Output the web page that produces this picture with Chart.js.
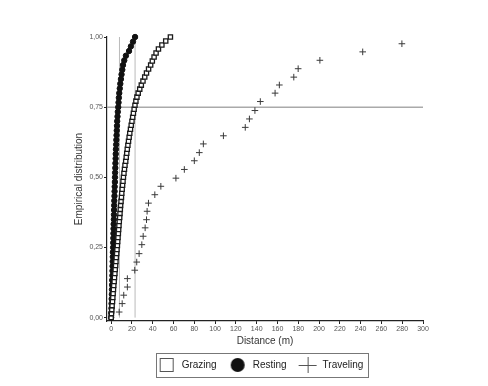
<!DOCTYPE html>
<html>
<head>
<meta charset="utf-8">
<script src="https://cdn.jsdelivr.net/npm/chart.js@4.4.1/dist/chart.umd.min.js"></script>
<style>
  html, body { margin: 0; padding: 0; background: #fff; }
</style>
</head>
<body>
<canvas id="ecdfChart" width="488" height="386"></canvas>
<script>
// Sorted distances (m)
const grazingDist = [
  0, 0.3, 0.6, 0.9, 1.3, 1.6, 1.9, 2.2, 2.5, 2.9,
  3.2, 3.6, 3.9, 4.3, 4.6, 4.9, 5.3, 5.6, 6.0, 6.3,
  6.6, 6.9, 7.2, 7.5, 7.8, 8.2, 8.5, 8.8, 9.1, 9.5,
  9.9, 10.2, 10.6, 11.0, 11.4, 11.8, 12.3, 12.8, 13.3, 14.0,
  14.5, 15.0, 15.5, 16.1, 16.7, 17.3, 17.9, 18.6, 19.3, 20.0,
  20.7, 21.4, 22.1, 22.9, 23.8, 24.8, 26.0, 27.5, 29.0, 30.6,
  32.3, 34.0, 36.0, 38.0, 39.6, 41.3, 43.2, 45.5, 48.8, 52.5, 57.0
];
const restingDist = [
  0, 0.1, 0.3, 0.4, 0.5, 0.7, 0.8, 0.9, 1.0, 1.2,
  1.3, 1.4, 1.5, 1.6, 1.7, 1.9, 2.0, 2.1, 2.2, 2.3,
  2.4, 2.6, 2.7, 2.8, 2.9, 3.0, 3.2, 3.3, 3.4, 3.6,
  3.7, 3.8, 4.0, 4.1, 4.3, 4.4, 4.6, 4.8, 5.0, 5.2,
  5.4, 5.6, 5.8, 6.1, 6.4, 6.8, 7.1, 7.4, 7.8, 8.3,
  8.8, 9.4, 10.0, 10.7, 11.4, 12.6, 14.2, 17.2, 19.0, 21.0, 23.0
];
// Traveling points read one by one
const travelingDist = [
  7.7, 10.6, 12.1, 15.6, 15.6, 22.7, 24.6, 26.9, 29.5, 30.8,
  32.7, 34.0, 34.6, 35.9, 42.0, 47.8, 62.3, 70.4, 80.0, 84.8,
  88.7, 108, 129, 133, 138.3, 143.5, 157.7, 161.8, 175.7, 179.9,
  200.8, 242, 279.7
];
const travelingProb = [
  0.020, 0.050, 0.080, 0.109, 0.139, 0.169, 0.198, 0.228, 0.260, 0.290,
  0.320, 0.349, 0.379, 0.408, 0.438, 0.468, 0.497, 0.528, 0.559, 0.588,
  0.619, 0.648, 0.678, 0.708, 0.738, 0.770, 0.800, 0.829, 0.857, 0.887,
  0.917, 0.947, 0.976
];

// reference lines
const refLevel = 0.75;
const refDistances = [8, 23];

const xTicks = [0, 20, 40, 60, 80, 100, 120, 140, 160, 180, 200, 220, 240, 260, 280, 300];
const yTicks = [0, 0.25, 0.5, 0.75, 1];
const xMin = -4, xMax = 300;
const yMin = -0.012, yMax = 1;

const LEGEND_SHIFT = 14;
const FONT = "'Liberation Sans', Arial, sans-serif";

// empirical distribution: rank / (n - 1) for a sorted sample
function ecdf(dist) {
  return dist.map((d, i) => ({ x: d, y: i / (dist.length - 1) }));
}

// small canvases used as legend symbols
function legendSymbol(kind) {
  const c = document.createElement('canvas');
  c.width = 20; c.height = 16;
  const g = c.getContext('2d');
  if (kind === 'square') {
    g.strokeStyle = '#555';
    g.lineWidth = 1;
    g.strokeRect(3.5, 1.5, 13, 13);
  } else if (kind === 'circle') {
    g.fillStyle = '#111';
    g.beginPath();
    g.arc(10, 8, 7, 0, Math.PI * 2);
    g.fill();
  } else {
    g.strokeStyle = '#555';
    g.lineWidth = 1;
    g.beginPath();
    g.moveTo(1, 8.5); g.lineTo(19, 8.5);
    g.moveTo(10.5, 0); g.lineTo(10.5, 16);
    g.stroke();
  }
  return c;
}
const legendSymbols = [legendSymbol('square'), legendSymbol('circle'), legendSymbol('plus')];

const legendTweaks = {
  id: 'legendTweaks',
  afterLayout(chart) {
    chart.legend.left += LEGEND_SHIFT;
    chart.legend.right += LEGEND_SHIFT;
  },
  afterDraw(chart) {
    const boxes = chart.legend.legendHitBoxes;
    if (!boxes || !boxes.length) return;
    const ctx = chart.ctx;
    const left = Math.min(...boxes.map(b => b.left)) - 1;
    const right = Math.max(...boxes.map(b => b.left + b.width)) + 4;
    const top = boxes[0].top - 7;
    const bottom = boxes[0].top + boxes[0].height + 7;
    ctx.save();
    ctx.strokeStyle = '#777';
    ctx.lineWidth = 1;
    ctx.strokeRect(Math.round(left) + 0.5, Math.round(top) + 0.5, Math.round(right - left), Math.round(bottom - top));
    ctx.restore();
  }
};

const datasets = [
  {
    label: 'Grazing',
    data: ecdf(grazingDist),
    pointStyle: 'rect',
    pointRadius: 3.0,
    borderWidth: 1.3,
    borderColor: '#1a1a1a',
    backgroundColor: '#ffffff',
    clip: 6
  },
  {
    label: 'Resting',
    data: ecdf(restingDist),
    pointStyle: 'circle',
    pointRadius: 2.7,
    borderWidth: 1,
    borderColor: '#111',
    backgroundColor: '#111',
    clip: 6
  },
  {
    label: 'Traveling',
    data: travelingDist.map((d, i) => ({ x: d, y: travelingProb[i] })),
    pointStyle: 'cross',
    pointRadius: 3.3,
    borderWidth: 1,
    borderColor: '#3a3a3a',
    backgroundColor: '#3a3a3a',
    clip: 6
  },
  {
    label: 'ref-h',
    data: [{ x: xMin, y: refLevel }, { x: xMax, y: refLevel }],
    showLine: true,
    pointRadius: 0,
    borderColor: '#aaa',
    borderWidth: 1.5
  }
];
refDistances.forEach(d => {
  datasets.push({
    label: 'ref-v',
    data: [{ x: d, y: 0 }, { x: d, y: 1 }],
    showLine: true,
    pointRadius: 0,
    borderColor: '#bbb',
    borderWidth: 1
  });
});

const ctx = document.getElementById('ecdfChart').getContext('2d');
new Chart(ctx, {
  type: 'scatter',
  data: { datasets: datasets },
  options: {
    responsive: false,
    animation: false,
    layout: { padding: { left: 69, right: 65, top: 37, bottom: 6 } },
    plugins: {
      tooltip: { enabled: false },
      legend: {
        position: 'bottom',
        labels: {
          usePointStyle: true,
          pointStyleWidth: 20,
          padding: 11,
          color: '#222',
          font: { family: FONT, size: 10 },
          generateLabels: chart => {
            const items = Chart.defaults.plugins.legend.labels.generateLabels(chart)
              .filter(item => item.datasetIndex < 3);
            items.forEach((item, i) => { item.pointStyle = legendSymbols[i]; });
            return items;
          }
        }
      }
    },
    scales: {
      x: {
        type: 'linear',
        min: xMin,
        max: xMax,
        afterBuildTicks: scale => { scale.ticks = xTicks.map(v => ({ value: v })); },
        afterFit: scale => { scale.height = 28; },
        grid: { drawOnChartArea: false, drawTicks: true, tickLength: 3, color: '#222' },
        border: { color: '#222', width: 1.2 },
        ticks: { padding: 1, color: '#555', font: { family: FONT, size: 7 }, maxRotation: 0 },
        title: {
          display: true,
          text: 'Distance (m)',
          color: '#333',
          padding: { top: 0, bottom: 2 },
          font: { family: FONT, size: 10 }
        }
      },
      y: {
        type: 'linear',
        min: yMin,
        max: yMax,
        afterBuildTicks: scale => { scale.ticks = yTicks.map(v => ({ value: v })); },
        afterFit: scale => { scale.width = 38; },
        grid: { drawOnChartArea: false, drawTicks: true, tickLength: 3, color: '#222' },
        border: { color: '#222', width: 1.2 },
        ticks: {
          padding: 1,
          color: '#555',
          font: { family: FONT, size: 7 },
          callback: v => v.toFixed(2).replace('.', ',')
        },
        title: {
          display: true,
          text: 'Empirical distribution',
          color: '#333',
          padding: { top: 4, bottom: 4 },
          font: { family: FONT, size: 10 }
        }
      }
    }
  },
  plugins: [legendTweaks]
});
</script>
</body>
</html>
